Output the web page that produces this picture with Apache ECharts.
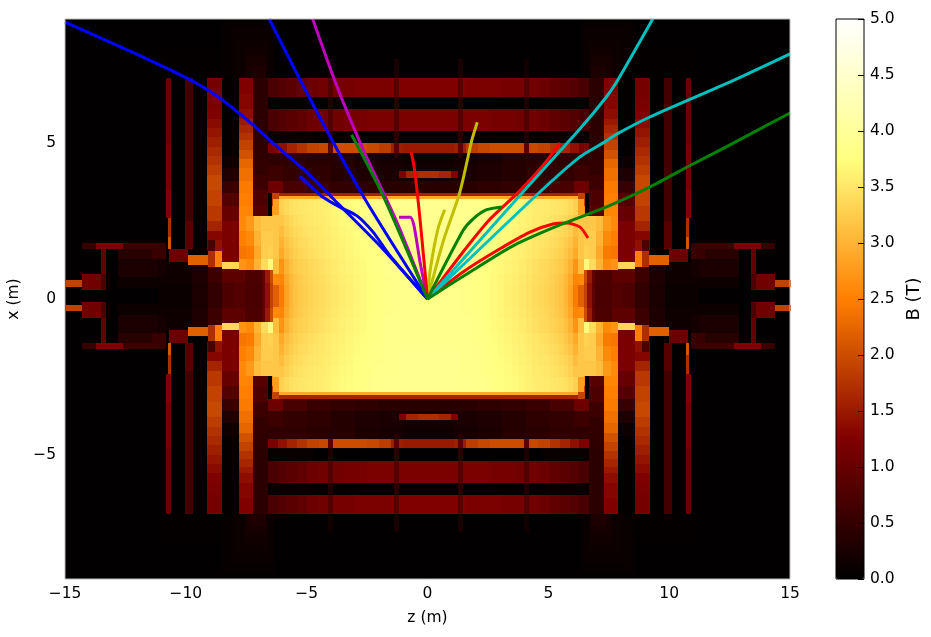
<!DOCTYPE html>
<html><head><meta charset="utf-8">
<style>html,body{margin:0;padding:0;background:#fff}#c{width:931px;height:637px}</style>
<script src="https://cdn.jsdelivr.net/npm/echarts@6/dist/echarts.min.js"></script>
</head><body><div id="c"></div>
<script>
// Field map for the upper-left quadrant, in metres and tesla.
// Plain blocks: [z0, z1, xLow, xHigh, B]
const fullFrame = [-15, 15, -9, 9, 0.02];
const backgroundBlocks = [
  [-11, -8.5, 7.1, 8, 0.05],
  [-8.5, -6.3, 7.1, 9, 0.07],
  [-8.1, -6.4, 7.1, 8.7, 0.1],
  [-7.9, -6.6, 7.1, 8.4, 0.13],
  [-7.6, -6.7, 7.1, 8.1, 0.17],
  [-7.5, -6.7, 7.1, 7.8, 0.22],
  [-7.3, -6.7, 7.1, 7.5, 0.3],
  [-6.6, -4.7, 6.1, 6.5, 0.06],
  [-6.6, -4.7, 5, 5.4, 0.08]
];
// Vertical coil and yoke strips: z range, x edges from top down, B per segment
const stripE = { z: [-7.22, -6.6], x: [7.1, 5, 4.5, 4, 3.5, 3, 2.67], b: [0.42, 0.45, 0.5, 0.6, 0.75, 0.85] };
const stripB = { z: [-10.03, -9.7], x: [7.1, 2.5, 1.6], b: [0.65, 0.85] };
const stripA = { z: [-10.82, -10.61], x: [7.1, 5, 3.5, 2.6], b: [1.0, 1.1, 1.25] };
const stripA2 = { z: [-10.74, -10.61], x: [2.6, 2.0, 1.6], b: [1.7, 2.1] };
const stripC = { z: [-9.12, -8.5], x: [7.1, 6.5, 6.1, 5.8, 5.5, 5.2, 4.9, 4.6, 4.3, 4, 3.5, 3, 2.5, 2.2, 1.9, 1.55], b: [1.15, 1.2, 1.25, 1.35, 1.45, 1.55, 1.65, 1.75, 1.85, 1.95, 1.9, 1.8, 1.6, 1.3, 1.1] };
const stripF = { z: [-8.5, -7.8], x: [7.1, 4.6, 4.2, 3.8, 3.4, 3, 2.5, 1.2], b: [0.05, 0.12, 0.3, 0.55, 0.8, 1.0, 1.2] };
const stripD = { z: [-7.8, -7.22], x: [7.1, 6.6, 6.1, 5.8, 5.6, 5.35, 5.1, 4.8, 4.5, 4.2, 3.8, 3.4, 3, 2.67], b: [1.25, 1.3, 1.38, 1.5, 1.62, 1.75, 1.9, 2.05, 2.25, 2.35, 2.45, 2.5, 2.55] };
// Horizontal strips: x range, z edges left to right, B per segment
const stackZ = [-6.6, -6.2, -5.8, -5.4, -5, -4.5, -4, -3.5, -3, -2.5, -2, -1.5, -1, -0.5, 0.04];
const stack1 = { x: [6.5, 7.1], z: stackZ, b: [0.72, 0.8, 0.88, 0.95, 1.05, 1.1, 1.15, 1.15, 1.2, 1.2, 1.2, 1.25, 1.25, 1.25] };
const stack2 = { x: [5.4, 6.1], z: stackZ, b: [0.72, 0.8, 0.88, 0.95, 1.05, 1.1, 1.1, 1.15, 1.15, 1.2, 1.2, 1.2, 1.2, 1.2] };
const stack3 = { x: [4.7, 5.0], z: stackZ, b: [1.2, 1.4, 1.6, 1.75, 1.9, 1.95, 2.0, 2.0, 2.0, 1.95, 1.85, 1.55, 1.5, 1.5] };
const smallBar = { x: [3.9, 4.1], z: [-1.2, -0.9, -0.4, 0.04], b: [1.25, 1.6, 1.7] };
const yokeLine1 = { x: [3.3, 3.4], z: [-6.15, 0.04], b: [1.6] };
const yokeLine2 = { x: [3.2, 3.3], z: [-6.15, 0.04], b: [2.9] };
const pocketZ = [-6.9, -6.6, -6, -5, -4, -3, -2, -1, 0.04];
const pocket = { z: pocketZ, x: [[4.3, 4.7], [3.8, 4.3], [3.4, 3.8]], b: [
  [0.45, 0.45, 0.45, 0.4, 0.35, 0.25, 0.2, 0.15],
  [0.7, 0.6, 0.5, 0.45, 0.35, 0.3, 0.25, 0.2],
  [0.9, 1.05, 0.7, 0.55, 0.5, 0.45, 0.4, 0.4]
] };
const crossStripes = [
  [-4.1, -3.9, 7.7, 7.1, 0.18], [-4.1, -3.9, 7.1, 6.5, 0.8], [-4.1, -3.9, 6.5, 6.1, 0.3], [-4.1, -3.9, 6.1, 5.4, 0.8], [-4.1, -3.9, 5.4, 5.0, 0.3], [-4.1, -3.9, 5.0, 4.7, 0.9], [-4.1, -3.9, 4.7, 4.55, 0.35],
  [-1.4, -1.2, 7.7, 7.1, 0.25], [-1.4, -1.2, 7.1, 6.5, 0.85], [-1.4, -1.2, 6.5, 6.1, 0.38], [-1.4, -1.2, 6.1, 5.4, 0.85], [-1.4, -1.2, 5.4, 5.0, 0.38], [-1.4, -1.2, 5.0, 4.7, 0.9], [-1.4, -1.2, 4.7, 4.55, 0.4]
];
// Bore and end-plate pieces
const boreZ = [-11.15, -9.76, -9.08, -8.5, -8, -7.55, -6.86, -6.72, -6.5, -6.3];
const bore = { z: boreZ, x: [[0.5, 1.2], [0.1, 0.5]], b: [
  [0.15, 0.3, 0.6, 0.9, 0.9, 0.75, 1.0, 1.5, 2.0],
  [0.1, 0.25, 0.5, 0.75, 0.8, 0.72, 0.95, 1.4, 1.9]
] };
const endBlocks = [
  [-12.8, -11.15, 1.3, 1.6, 0.38], [-12.8, -11.15, 0.7, 1.3, 0.25], [-12.8, -11.15, 0.35, 0.7, 0.12],
  [-11.4, -10.82, 1.3, 1.6, 0.55], [-11.15, -10.82, 0.7, 1.3, 0.2],
  [-14.3, -10.82, 1.6, 1.8, 0.55], [-13.7, -12.6, 1.6, 1.8, 1.25], [-12.6, -11.2, 1.6, 1.8, 0.6],
  [-13.5, -13.3, 0.8, 1.6, 1.0], [-13.3, -12.8, 0.2, 1.5, 0.02],
  [-14.3, -13.5, 0.3, 0.8, 1.1], [-13.5, -13.3, 0.3, 0.8, 0.75],
  [-14.95, -14.3, 0.38, 0.6, 1.9],
  [-10.7, -9.9, 1.2, 1.6, 1.05], [-9.9, -9.1, 1.09, 1.4, 2.2], [-9.1, -8.8, 1.04, 1.55, 1.7], [-8.8, -8.5, 1.04, 1.55, 2.5],
  [-9.1, -8.8, 1.55, 1.9, 0.7], [-8.8, -8.5, 1.55, 1.9, 1.4],
  [-8.5, -7.8, 0.97, 1.2, 3.35]
];
const plateauZ = [-7.8, -7.5, -7.2, -6.9, -6.6, -6.3];
const plateau = { z: plateauZ, x: [[2.2, 2.67], [1.7, 2.2], [1.3, 1.7], [0.93, 1.3]], b: [
  [2.6, 2.75, 3.1, 3.2, 3.2],
  [2.5, 2.6, 3.0, 3.25, 3.25],
  [2.4, 2.45, 2.9, 3.25, 3.3],
  [2.7, 2.6, 3.0, 3.4, 3.7]
] };
const flame = { z: [-6.45, -6.15], x: [3.6, 3.4, 3, 2.67], b: [1.1, 1.9, 2.7] };
const coreZ = [-6.4, -6.15, -5.95, -5.75, -5.55, -5.35, -5.15, -4.95, -4.75, -4.5, -4.25, -4, -3.7, -3.4, -3.1, -2.8, -2.5, -2.2, -1.8, -1.2, 0.04];
const core = { z: coreZ, x: [[2.7, 3.2], [2.35, 2.7], [2, 2.35], [1.65, 2], [1.3, 1.65], [0.8, 1.3], [0.45, 0.8], [0.1, 0.45]], b: [
  [2.8, 3.3, 3.38, 3.44, 3.48, 3.5, 3.52, 3.54, 3.56, 3.58, 3.62, 3.66, 3.7, 3.73, 3.76, 3.79, 3.82, 3.85, 3.88, 3.9],
  [3.2, 3.2, 3.3, 3.37, 3.42, 3.46, 3.49, 3.52, 3.54, 3.56, 3.6, 3.64, 3.68, 3.72, 3.75, 3.78, 3.81, 3.84, 3.87, 3.9],
  [3.2, 3.1, 3.25, 3.32, 3.38, 3.42, 3.46, 3.49, 3.52, 3.54, 3.58, 3.62, 3.66, 3.7, 3.74, 3.77, 3.8, 3.83, 3.86, 3.9],
  [3.2, 3.0, 3.17, 3.26, 3.33, 3.38, 3.42, 3.46, 3.49, 3.52, 3.56, 3.6, 3.64, 3.68, 3.72, 3.76, 3.79, 3.82, 3.86, 3.88],
  [3.2, 2.9, 3.1, 3.2, 3.28, 3.34, 3.38, 3.42, 3.46, 3.5, 3.54, 3.58, 3.62, 3.66, 3.7, 3.74, 3.78, 3.81, 3.85, 3.87],
  [3.1, 2.7, 2.98, 3.12, 3.22, 3.28, 3.33, 3.37, 3.41, 3.45, 3.5, 3.55, 3.6, 3.64, 3.68, 3.72, 3.76, 3.8, 3.84, 3.86],
  [2.6, 2.55, 2.88, 3.05, 3.17, 3.24, 3.3, 3.35, 3.39, 3.43, 3.48, 3.53, 3.58, 3.62, 3.66, 3.7, 3.75, 3.79, 3.83, 3.85],
  [2.2, 2.45, 2.82, 3.02, 3.15, 3.22, 3.28, 3.33, 3.37, 3.41, 3.46, 3.51, 3.56, 3.6, 3.65, 3.7, 3.75, 3.79, 3.83, 3.85]
] };
// Tracks: [z, x]
const trackBlue1 = [[-15, 8.9], [-12.24, 7.94], [-9.76, 7.02], [-8.67, 6.5], [-7.27, 5.63], [-6.45, 5.05], [-5.15, 4.18], [-3.62, 3.0], [-1.97, 1.71], [0, 0]];
const trackBlue2 = [[-5.28, 3.95], [-4.79, 3.59], [-4.32, 3.27], [-3.62, 2.95], [-2.93, 2.68], [-2.25, 2.15], [-1.55, 1.39], [0, 0]];
const trackBlue3 = [[-6.55, 9], [-4.86, 6.43], [-2.67, 3.32], [0, 0]];
const trackMagenta1 = [[-4.75, 9], [-3.76, 6.86], [-2.67, 4.82], [-1.27, 2.48], [0, 0]];
const trackMagenta2 = [[-1.18, 2.63], [-0.72, 2.63], [-0.56, 2.36], [-0.31, 1.19], [0, 0]];
const trackGreen1 = [[-3.14, 5.28], [-1.84, 3.32], [0, 0]];
const trackGreen2 = [[3.07, 2.96], [2.45, 2.87], [1.88, 2.57], [1.47, 2.2], [0, 0]];
const trackGreen3 = [[15, 5.98], [12.38, 4.9], [10.86, 4.29], [9.2, 3.6], [7.41, 2.96], [5.48, 2.38], [3.54, 1.71], [1.76, 0.87], [0, 0]];
const trackRed1 = [[-0.68, 4.72], [-0.56, 4.29], [-0.31, 2.57], [0, 0]];
const trackRed2 = [[5.48, 5.02], [4.78, 4.29], [3.69, 3.38], [2.59, 2.57], [1.47, 1.51], [0, 0]];
const trackRed3 = [[6.64, 1.96], [6.31, 2.31], [5.76, 2.44], [5.19, 2.41], [4.24, 2.15], [2.86, 1.55], [1.47, 0.87], [0, 0]];
const trackOlive1 = [[0.71, 2.87], [0.43, 2.25], [0.1, 0.87], [0, 0]];
const trackOlive2 = [[2.06, 5.68], [1.83, 5.09], [1.34, 3.44], [0.64, 1.83], [0, 0]];
const trackCyan1 = [[9.32, 9], [7.83, 6.98], [7.41, 6.5], [6.31, 5.47], [3.95, 3.44], [0, 0]];
const trackCyan2 = [[15, 7.88], [12.64, 7.02], [9.2, 5.85], [7.83, 5.3], [7.34, 5.05], [6.31, 4.57], [4.65, 3.44], [0, 0]];
const trackColors = { blue: '#0000ff', magenta: '#bf00bf', green: '#008000', red: '#ff0000', olive: '#bfbf00', cyan: '#00bfbf' };
const colorStops = ['#000000', '#800000', '#ff8000', '#ffff80', '#ffffff'];

const quad = [];
backgroundBlocks.forEach(r => quad.push(r));
function addMatrix(m) {
  m.x.forEach((xr, i) => m.b[i].forEach((v, j) => quad.push([m.z[j], m.z[j + 1], xr[0], xr[1], v])));
}
function addV(s) { s.b.forEach((v, i) => quad.push([s.z[0], s.z[1], s.x[i + 1], s.x[i], v])); }
function addH(s) { s.b.forEach((v, i) => quad.push([s.z[i], s.z[i + 1], s.x[0], s.x[1], v])); }
addMatrix(pocket);
[stripE, stripB, stripA, stripA2, stripC, stripF, stripD].forEach(addV);
[stack1, stack2, stack3, smallBar].forEach(addH);
crossStripes.forEach(r => quad.push([r[0], r[1], r[3], r[2], r[4]]));
addMatrix(bore);
endBlocks.forEach(r => quad.push(r));
addMatrix(plateau);
addV(flame);
addMatrix(core);
[yokeLine1, yokeLine2].forEach(addH);

// mirror the quadrant about the magnet's own centre lines
const zMid = 0.04, xMid = 0.1;
const cells = [fullFrame];
quad.forEach(r => {
  [1, -1].forEach(sz => [1, -1].forEach(sx => {
    const a = sz > 0 ? r[0] : 2 * zMid - r[0], b = sz > 0 ? r[1] : 2 * zMid - r[1];
    const c = sx > 0 ? r[2] : 2 * xMid - r[2], d = sx > 0 ? r[3] : 2 * xMid - r[3];
    cells.push([a, b, c, d, r[4]]);
  }));
});

function renderCell(params, api) {
  const p0 = api.coord([api.value(0), api.value(3)]);
  const p1 = api.coord([api.value(1), api.value(2)]);
  const xa = Math.round(Math.min(p0[0], p1[0])), xb = Math.round(Math.max(p0[0], p1[0]));
  const ya = Math.round(Math.min(p0[1], p1[1])), yb = Math.round(Math.max(p0[1], p1[1]));
  return { type: 'rect', shape: { x: xa, y: ya, width: xb - xa, height: yb - ya }, style: { fill: api.visual('color') } };
}
function track(data, color) {
  return { type: 'line', data: data, xAxisIndex: 0, yAxisIndex: 0, symbol: 'none', smooth: 0.25, clip: true,
    lineStyle: { color: color, width: 3 }, z: 5, silent: true, animation: false };
}
const T = { color: '#000', fontFamily: 'DejaVu Sans', fontSize: 15.5 };
const minus = v => String(v).replace('-', '\u2212');

const chart = echarts.init(document.getElementById('c'), null, { renderer: 'canvas' });
chart.setOption({
  animation: false,
  backgroundColor: '#fff',
  grid: [
    { left: 65, top: 19, width: 725, height: 560, show: true, z: 10, borderColor: '#bbb', borderWidth: 1, backgroundColor: 'transparent', outerBoundsMode: 'none', containLabel: false },
    { left: 836, top: 19, width: 28, height: 560, show: true, z: 10, borderColor: '#000', borderWidth: 1, backgroundColor: 'transparent', outerBoundsMode: 'none', containLabel: false }
  ],
  xAxis: [
    { type: 'value', gridIndex: 0, min: -15, max: 15, interval: 5, name: 'z (m)', nameLocation: 'middle', nameGap: 31, position: 'bottom',
      nameTextStyle: T, axisLabel: Object.assign({}, T, { margin: 7, formatter: minus, hideOverlap: false }),
      axisLine: { show: false, onZero: false }, axisTick: { show: false }, splitLine: { show: false }, z: 11 },
    { type: 'value', gridIndex: 1, min: 0, max: 1, show: false }
  ],
  yAxis: [
    { type: 'value', gridIndex: 0, min: -9, max: 9, interval: 1, name: 'x (m)', nameLocation: 'middle', nameGap: 39,
      nameTextStyle: T, axisLabel: Object.assign({}, T, { margin: 9, formatter: v => (v === 0 || Math.abs(v) === 5) ? minus(v) : '' }),
      axisLine: { show: false, onZero: false }, axisTick: { show: false }, splitLine: { show: false }, z: 11 },
    { type: 'value', gridIndex: 1, min: 0, max: 5, interval: 0.5, position: 'right', name: 'B (T)', nameLocation: 'middle', nameGap: 41, nameRotate: 90,
      nameTextStyle: Object.assign({}, T, { fontSize: 18 }), axisLabel: Object.assign({}, T, { margin: 6, formatter: v => v.toFixed(1) }),
      axisLine: { show: false, onZero: false }, axisTick: { show: true, inside: true, length: 6, lineStyle: { color: '#000' } }, splitLine: { show: false }, z: 11 }
  ],
  visualMap: [{
    type: 'continuous', min: 0, max: 5, dimension: 4, seriesIndex: 0, left: 836, top: 19, itemWidth: 28, itemHeight: 560,
    padding: 0, calculable: false, realtime: false, text: null, showLabel: false, inRange: { color: colorStops }, hoverLink: false, z: 4
  }],
  series: [
    { type: 'custom', data: cells, xAxisIndex: 0, yAxisIndex: 0, renderItem: renderCell, encode: { x: [0, 1], y: [2, 3] }, silent: true, animation: false, progressive: 0, z: 2 },
    track(trackBlue1, trackColors.blue), track(trackBlue2, trackColors.blue), track(trackBlue3, trackColors.blue),
    track(trackMagenta1, trackColors.magenta), track(trackMagenta2, trackColors.magenta),
    track(trackOlive1, trackColors.olive), track(trackOlive2, trackColors.olive),
    track(trackRed1, trackColors.red), track(trackRed2, trackColors.red), track(trackRed3, trackColors.red),
    track(trackCyan1, trackColors.cyan), track(trackCyan2, trackColors.cyan),
    track(trackGreen1, trackColors.green), track(trackGreen2, trackColors.green), track(trackGreen3, trackColors.green)
  ]
});
</script></body></html>
